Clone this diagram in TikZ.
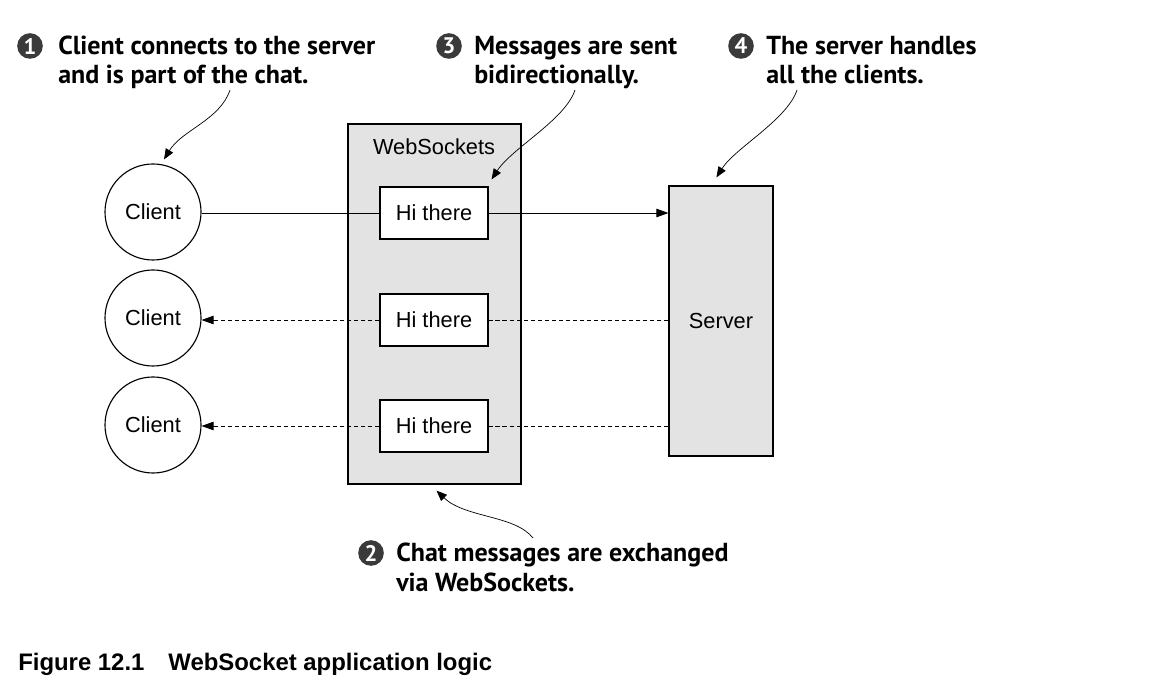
\documentclass[tikz,border=0pt]{standalone}
\usepackage{fontspec}
\setmainfont{Liberation Sans}
\newfontfamily\notefont{PT Sans}
\usetikzlibrary{arrows.meta, positioning, calc}
\definecolor{boxgray}{HTML}{E3E3E3}
\definecolor{badgegray}{HTML}{3A3A3A}

\begin{document}
\begin{tikzpicture}[x=0.025cm, y=-0.025cm,
  client/.style={circle, draw, line width=0.8pt, minimum size=2.4cm, inner sep=0pt, font=\fontsize{15.5}{18}\selectfont},
  msg/.style={rectangle, draw, fill=white, line width=0.8pt, minimum width=2.7cm, minimum height=1.3cm, inner sep=0pt, font=\fontsize{15.5}{18}\selectfont},
  graybox/.style={rectangle, draw, fill=boxgray, line width=0.8pt, inner sep=0pt},
  badge/.style={circle, fill=badgegray, text=white, inner sep=0pt, minimum size=0.64cm, font=\notefont\bfseries\fontsize{16}{16}\selectfont},
  note/.style={anchor=base west, align=left, inner sep=0pt, font=\notefont\bfseries\fontsize{18.5}{21}\selectfont},
  link/.style={line width=0.6pt},
  reply/.style={line width=0.6pt, dash pattern=on 3pt off 2pt},
  tip/.style={-{Triangle[length=8.5pt,width=6pt]}},
  callout/.style={line width=0.5pt, -{Triangle[length=7.5pt,width=6pt]}}
]
\useasboundingbox (0,0) rectangle (1172,694);

% websocket channel and server
\node[graybox, minimum width=4.325cm, minimum height=9cm] (ws) at (434.5,304) {};
\node[font=\fontsize{15.5}{18}\selectfont] (wslabel) at (434,147) {WebSockets};
\node[graybox, minimum width=2.6cm, minimum height=6.75cm] (server) at (721,321) {};
\node[font=\fontsize{15.5}{18}\selectfont] (serverlabel) at (721,321) {Server};

% clients and messages
\node[client] (client1) at (153,212) {Client};
\node[client] (client2) at (153,318) {Client};
\node[client] (client3) at (153,425) {Client};
\node[msg] (msg1) at (434,213) {Hi there};
\node[msg] (msg2) at (434,320) {Hi there};
\node[msg] (msg3) at (434,426) {Hi there};

\draw[link] (client1.east |- msg1) -- (msg1.west);
\draw[link, tip] (msg1.east) -- (msg1.east -| server.west);
\draw[reply] (msg2.east -| server.west) -- (msg2.east);
\draw[reply, tip] (msg2.west) -- (msg2.west -| client2.east);
\draw[reply] (msg3.east -| server.west) -- (msg3.east);
\draw[reply, tip] (msg3.west) -- (msg3.west -| client3.east);

% callouts
\node[badge] (badge1) at (30,46) {1};
\node[note] (note1) at (58,84) {Client connects to the server\\and is part of the chat.};
\node[badge] (badge3) at (449,46) {3};
\node[note] (note3) at (474,84) {Messages are sent\\bidirectionally.};
\node[badge] (badge4) at (741,46) {4};
\node[note] (note4) at (766,84) {The server handles\\all the clients.};
\node[badge] (badge2) at (371,553) {2};
\node[note] (note2) at (396,591) {Chat messages are exchanged\\via WebSockets.};

\coordinate (from1) at (230,90);
\coordinate (from3) at (575,90);
\coordinate (from4) at (797,90);
\coordinate (from2) at (533,538);
\draw[callout] (from1) .. controls (220,120) and (182,130) .. ($(client1.north)+(11,-4)$);
\draw[callout] (from3) .. controls (565,120) and (512,148) .. ($(msg1.north east)+(3,-7)$);
\draw[callout] (from4) .. controls (787,120) and (735,148) .. ($(server.north west)+(48,-8)$);
\draw[callout] (from2) .. controls (515,515) and (465,518) .. ($(ws.south)+(2,6)$);

% caption
\node[anchor=base west, inner sep=0pt, font=\bfseries\fontsize{17}{18}\selectfont] (caption) at (18,670) {Figure 12.1\hspace{1em}WebSocket application logic};
\end{tikzpicture}
\end{document}
